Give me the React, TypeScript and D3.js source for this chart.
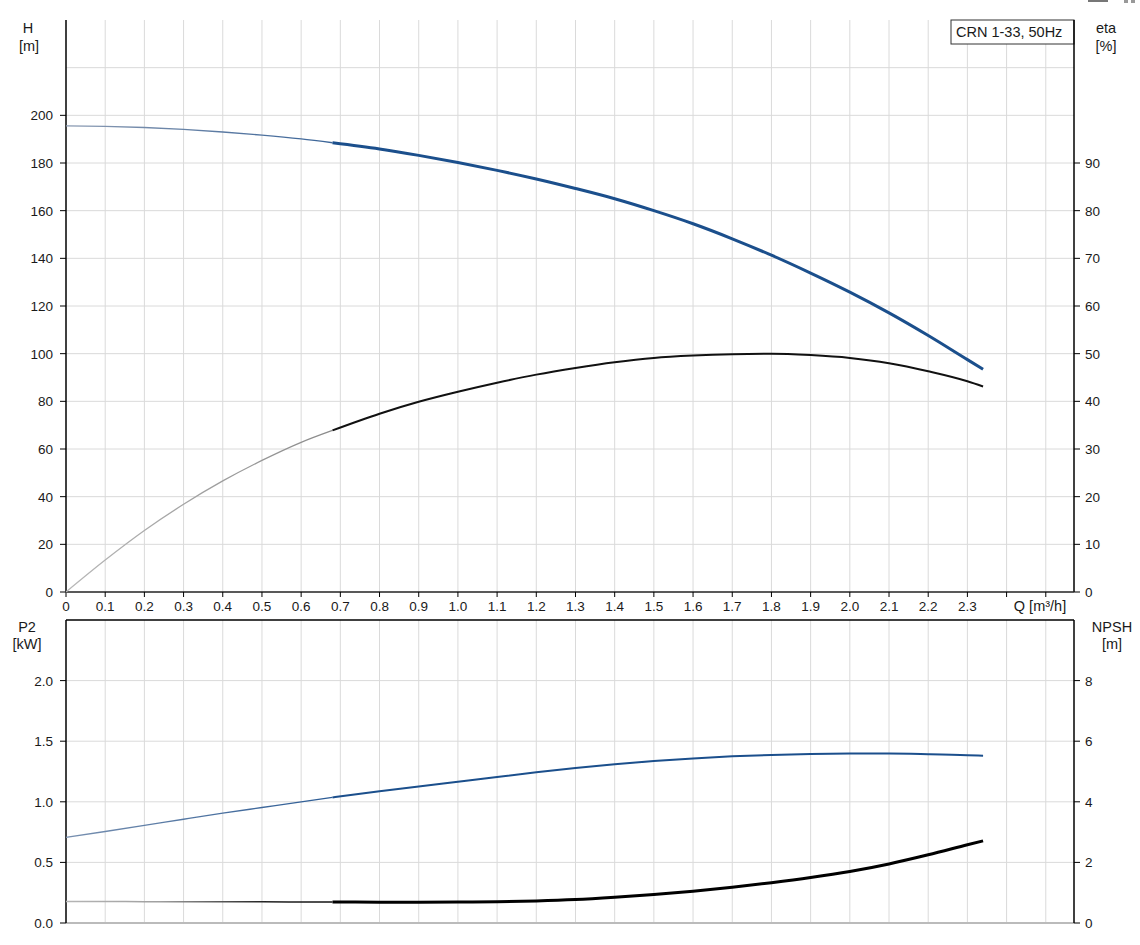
import React from "react";
import * as d3 from "d3";

// ---- data ----
const flowQ = [0, 0.1, 0.2, 0.3, 0.4, 0.5, 0.6, 0.68, 0.8, 0.9, 1.0, 1.1, 1.2, 1.3, 1.4, 1.5, 1.6, 1.7, 1.8, 1.9, 2.0, 2.1, 2.2, 2.3, 2.34];
const headH = [195.6, 195.4, 194.9, 194.1, 193.0, 191.7, 190.1, 188.5, 185.9, 183.2, 180.2, 176.9, 173.3, 169.3, 165.0, 160.0, 154.5, 148.2, 141.3, 133.8, 125.8, 117.1, 107.6, 97.5, 93.5];
const etaPct = [0, 6.7, 12.9, 18.4, 23.3, 27.6, 31.4, 33.9, 37.4, 39.9, 42.0, 43.9, 45.6, 47.0, 48.2, 49.1, 49.6, 49.9, 50.0, 49.7, 49.1, 48.0, 46.3, 44.2, 43.1];
const powerP2 = [0.706, 0.755, 0.805, 0.856, 0.906, 0.953, 1.0, 1.036, 1.087, 1.127, 1.166, 1.205, 1.243, 1.278, 1.309, 1.336, 1.358, 1.375, 1.387, 1.395, 1.398, 1.398, 1.393, 1.385, 1.38];
const npshM = [0.71, 0.708, 0.705, 0.703, 0.7, 0.698, 0.695, 0.692, 0.688, 0.687, 0.69, 0.7, 0.728, 0.775, 0.85, 0.94, 1.05, 1.18, 1.33, 1.5, 1.7, 1.95, 2.25, 2.58, 2.71];
const dutyStartQ = 0.68;

const xTicks = d3.range(0, 26).map((i) => +(i * 0.1).toFixed(1));
const xTickLabels = xTicks.filter((t) => t <= 2.3);
const hTicks = [0, 20, 40, 60, 80, 100, 120, 140, 160, 180, 200];
const hGrid = [20, 40, 60, 80, 100, 120, 140, 160, 180, 200, 220];
const etaTicks = [0, 10, 20, 30, 40, 50, 60, 70, 80, 90];
const p2Ticks = [0, 0.5, 1.0, 1.5, 2.0];
const npshTicks = [0, 2, 4, 6, 8];
const titleText = "CRN 1-33, 50Hz";

const W = 1140;
const H = 945;
const left = 66;
const right = 1074;
const top1 = 20;
const bot1 = 592;
const top2 = 620;
const bot2 = 923;

const BLUE = "#1b4f8c";
const FONT = "Arial, 'Liberation Sans', sans-serif";
const TXT = "#1a1a1a";
const GRID = "#dadada";

export default function App() {
  const x = d3.scaleLinear().domain([0, 2.572]).range([left, right]);
  const yH = d3.scaleLinear().domain([0, 240]).range([bot1, top1]);
  const yEta = d3.scaleLinear().domain([0, 120]).range([bot1, top1]);
  const yP2 = d3.scaleLinear().domain([0, 2.5]).range([bot2, top2]);
  const yN = d3.scaleLinear().domain([0, 10]).range([bot2, top2]);

  const mk = (vals: number[], y: d3.ScaleLinear<number, number>) => {
    const pts = flowQ.map((q, i) => [q, vals[i]] as [number, number]);
    const line = d3
      .line<[number, number]>()
      .x((d) => x(d[0]))
      .y((d) => y(d[1]))
      .curve(d3.curveMonotoneX);
    return {
      thin: line(pts.filter((p) => p[0] <= dutyStartQ)) || "",
      thick: line(pts.filter((p) => p[0] >= dutyStartQ)) || "",
    };
  };
  const hPath = mk(headH, yH);
  const ePath = mk(etaPct, yEta);
  const pPath = mk(powerP2, yP2);
  const nPath = mk(npshM, yN);

  const gx2 = x(dutyStartQ);

  return (
    <svg width={W} height={H} style={{ position: "absolute", left: 0, top: 0, background: "#fff" }} fontFamily={FONT}>
      <defs>
        <linearGradient id="gH" gradientUnits="userSpaceOnUse" x1={left} x2={gx2} y1={0} y2={0}>
          <stop offset="0" stopColor="#8a9ab2" />
          <stop offset="1" stopColor="#3a6498" />
        </linearGradient>
        <linearGradient id="gE" gradientUnits="userSpaceOnUse" x1={left} x2={gx2} y1={0} y2={0}>
          <stop offset="0" stopColor="#b8b8b8" />
          <stop offset="1" stopColor="#8a8a8a" />
        </linearGradient>
        <linearGradient id="gP" gradientUnits="userSpaceOnUse" x1={left} x2={gx2} y1={0} y2={0}>
          <stop offset="0" stopColor="#7890b0" />
          <stop offset="1" stopColor="#2a5a94" />
        </linearGradient>
        <linearGradient id="gN" gradientUnits="userSpaceOnUse" x1={left} x2={gx2} y1={0} y2={0}>
          <stop offset="0" stopColor="#b5b5b5" />
          <stop offset="0.35" stopColor="#a0a0a0" />
          <stop offset="0.75" stopColor="#222" />
          <stop offset="1" stopColor="#111" />
        </linearGradient>
      </defs>

      {/* corner artifacts */}
      <rect x={1088} y={0} width={20} height={2} fill="#777" />
      <rect x={1124} y={0} width={4} height={3} fill="#999" />
      <rect x={1131} y={0} width={4} height={3} fill="#999" />

      {/* ---------- top panel ---------- */}
      <g>
        {xTicks.slice(1).map((t) => (
          <line key={"vg1" + t} x1={x(t)} x2={x(t)} y1={top1} y2={bot1} stroke={GRID} strokeWidth={1} />
        ))}
        {hGrid.map((t) => (
          <line key={"hg1" + t} x1={left} x2={right} y1={yH(t)} y2={yH(t)} stroke={GRID} strokeWidth={1} />
        ))}
        {/* title box */}
        <rect x={951} y={20} width={right - 951} height={24} fill="#fff" stroke="#333" strokeWidth={1} />
        <text x={956} y={37} fontSize={14.5} fill={TXT}>{titleText}</text>

        {/* axes */}
        <line x1={left} x2={left} y1={top1} y2={bot1} stroke="#000" strokeWidth={1.5} />
        <line x1={right} x2={right} y1={top1} y2={bot1} stroke="#000" strokeWidth={1.5} />
        <line x1={left} x2={right} y1={bot1} y2={bot1} stroke="#222" strokeWidth={1.5} />

        {hTicks.map((t) => (
          <g key={"ht" + t}>
            <line x1={left - 6} x2={left} y1={yH(t)} y2={yH(t)} stroke="#000" />
            <text x={53} y={yH(t) + 5} fontSize={13.5} textAnchor="end" fill={TXT}>{t}</text>
          </g>
        ))}
        {etaTicks.map((t) => (
          <g key={"et" + t}>
            <line x1={right} x2={right + 6} y1={yEta(t)} y2={yEta(t)} stroke="#000" />
            <text x={1085} y={yEta(t) + 5} fontSize={13.5} fill={TXT}>{t}</text>
          </g>
        ))}
        {xTicks.map((t) => (
          <line key={"xt" + t} x1={x(t)} x2={x(t)} y1={bot1} y2={bot1 + 5} stroke="#000" />
        ))}
        {xTickLabels.map((t) => (
          <text key={"xl" + t} x={x(t)} y={611} fontSize={13.5} textAnchor="middle" fill={TXT}>
            {t === 0 ? "0" : t.toFixed(1)}
          </text>
        ))}
        <text x={1040} y={611} fontSize={14.5} textAnchor="middle" fill={TXT}>Q [m³/h]</text>

        <text x={28} y={33} fontSize={14.5} textAnchor="middle" fill={TXT}>H</text>
        <text x={29} y={51} fontSize={14.5} textAnchor="middle" fill={TXT}>[m]</text>
        <text x={1106} y={33} fontSize={14.5} textAnchor="middle" fill={TXT}>eta</text>
        <text x={1106} y={51} fontSize={14.5} textAnchor="middle" fill={TXT}>[%]</text>

        {/* curves */}
        <path d={ePath.thin} fill="none" stroke="url(#gE)" strokeWidth={1.3} />
        <path d={ePath.thick} fill="none" stroke="#111" strokeWidth={2} />
        <path d={hPath.thin} fill="none" stroke="url(#gH)" strokeWidth={1.3} />
        <path d={hPath.thick} fill="none" stroke={BLUE} strokeWidth={3} />
      </g>

      {/* ---------- bottom panel ---------- */}
      <g>
        {xTicks.slice(1).map((t) => (
          <line key={"vg2" + t} x1={x(t)} x2={x(t)} y1={top2} y2={bot2} stroke={GRID} strokeWidth={1} />
        ))}
        {p2Ticks.slice(1).map((t) => (
          <line key={"hg2" + t} x1={left} x2={right} y1={yP2(t)} y2={yP2(t)} stroke={GRID} strokeWidth={1} />
        ))}
        <line x1={left} x2={right} y1={bot2} y2={bot2} stroke="#bbb" strokeWidth={2} />
        <line x1={left} x2={right} y1={top2} y2={top2} stroke="#000" strokeWidth={1.5} />
        <line x1={left} x2={left} y1={top2} y2={bot2} stroke="#000" strokeWidth={1.5} />
        <line x1={right} x2={right} y1={top2} y2={bot2} stroke="#000" strokeWidth={1.5} />

        {p2Ticks.map((t) => (
          <g key={"pt" + t}>
            <line x1={left - 6} x2={left} y1={yP2(t)} y2={yP2(t)} stroke="#000" />
            <text x={53} y={yP2(t) + 5} fontSize={13.5} textAnchor="end" fill={TXT}>{t.toFixed(1)}</text>
          </g>
        ))}
        {npshTicks.map((t) => (
          <g key={"nt" + t}>
            <line x1={right} x2={right + 6} y1={yN(t)} y2={yN(t)} stroke="#000" />
            <text x={1085} y={yN(t) + 5} fontSize={13.5} fill={TXT}>{t}</text>
          </g>
        ))}

        <text x={27} y={632} fontSize={14.5} textAnchor="middle" fill={TXT}>P2</text>
        <text x={27} y={649} fontSize={14.5} textAnchor="middle" fill={TXT}>[kW]</text>
        <text x={1112} y={632} fontSize={14.5} textAnchor="middle" fill={TXT}>NPSH</text>
        <text x={1112} y={649} fontSize={14.5} textAnchor="middle" fill={TXT}>[m]</text>

        <path d={nPath.thin} fill="none" stroke="url(#gN)" strokeWidth={1.5} />
        <path d={nPath.thick} fill="none" stroke="#000" strokeWidth={3} />
        <path d={pPath.thin} fill="none" stroke="url(#gP)" strokeWidth={1.3} />
        <path d={pPath.thick} fill="none" stroke={BLUE} strokeWidth={2} />
      </g>
    </svg>
  );
}
